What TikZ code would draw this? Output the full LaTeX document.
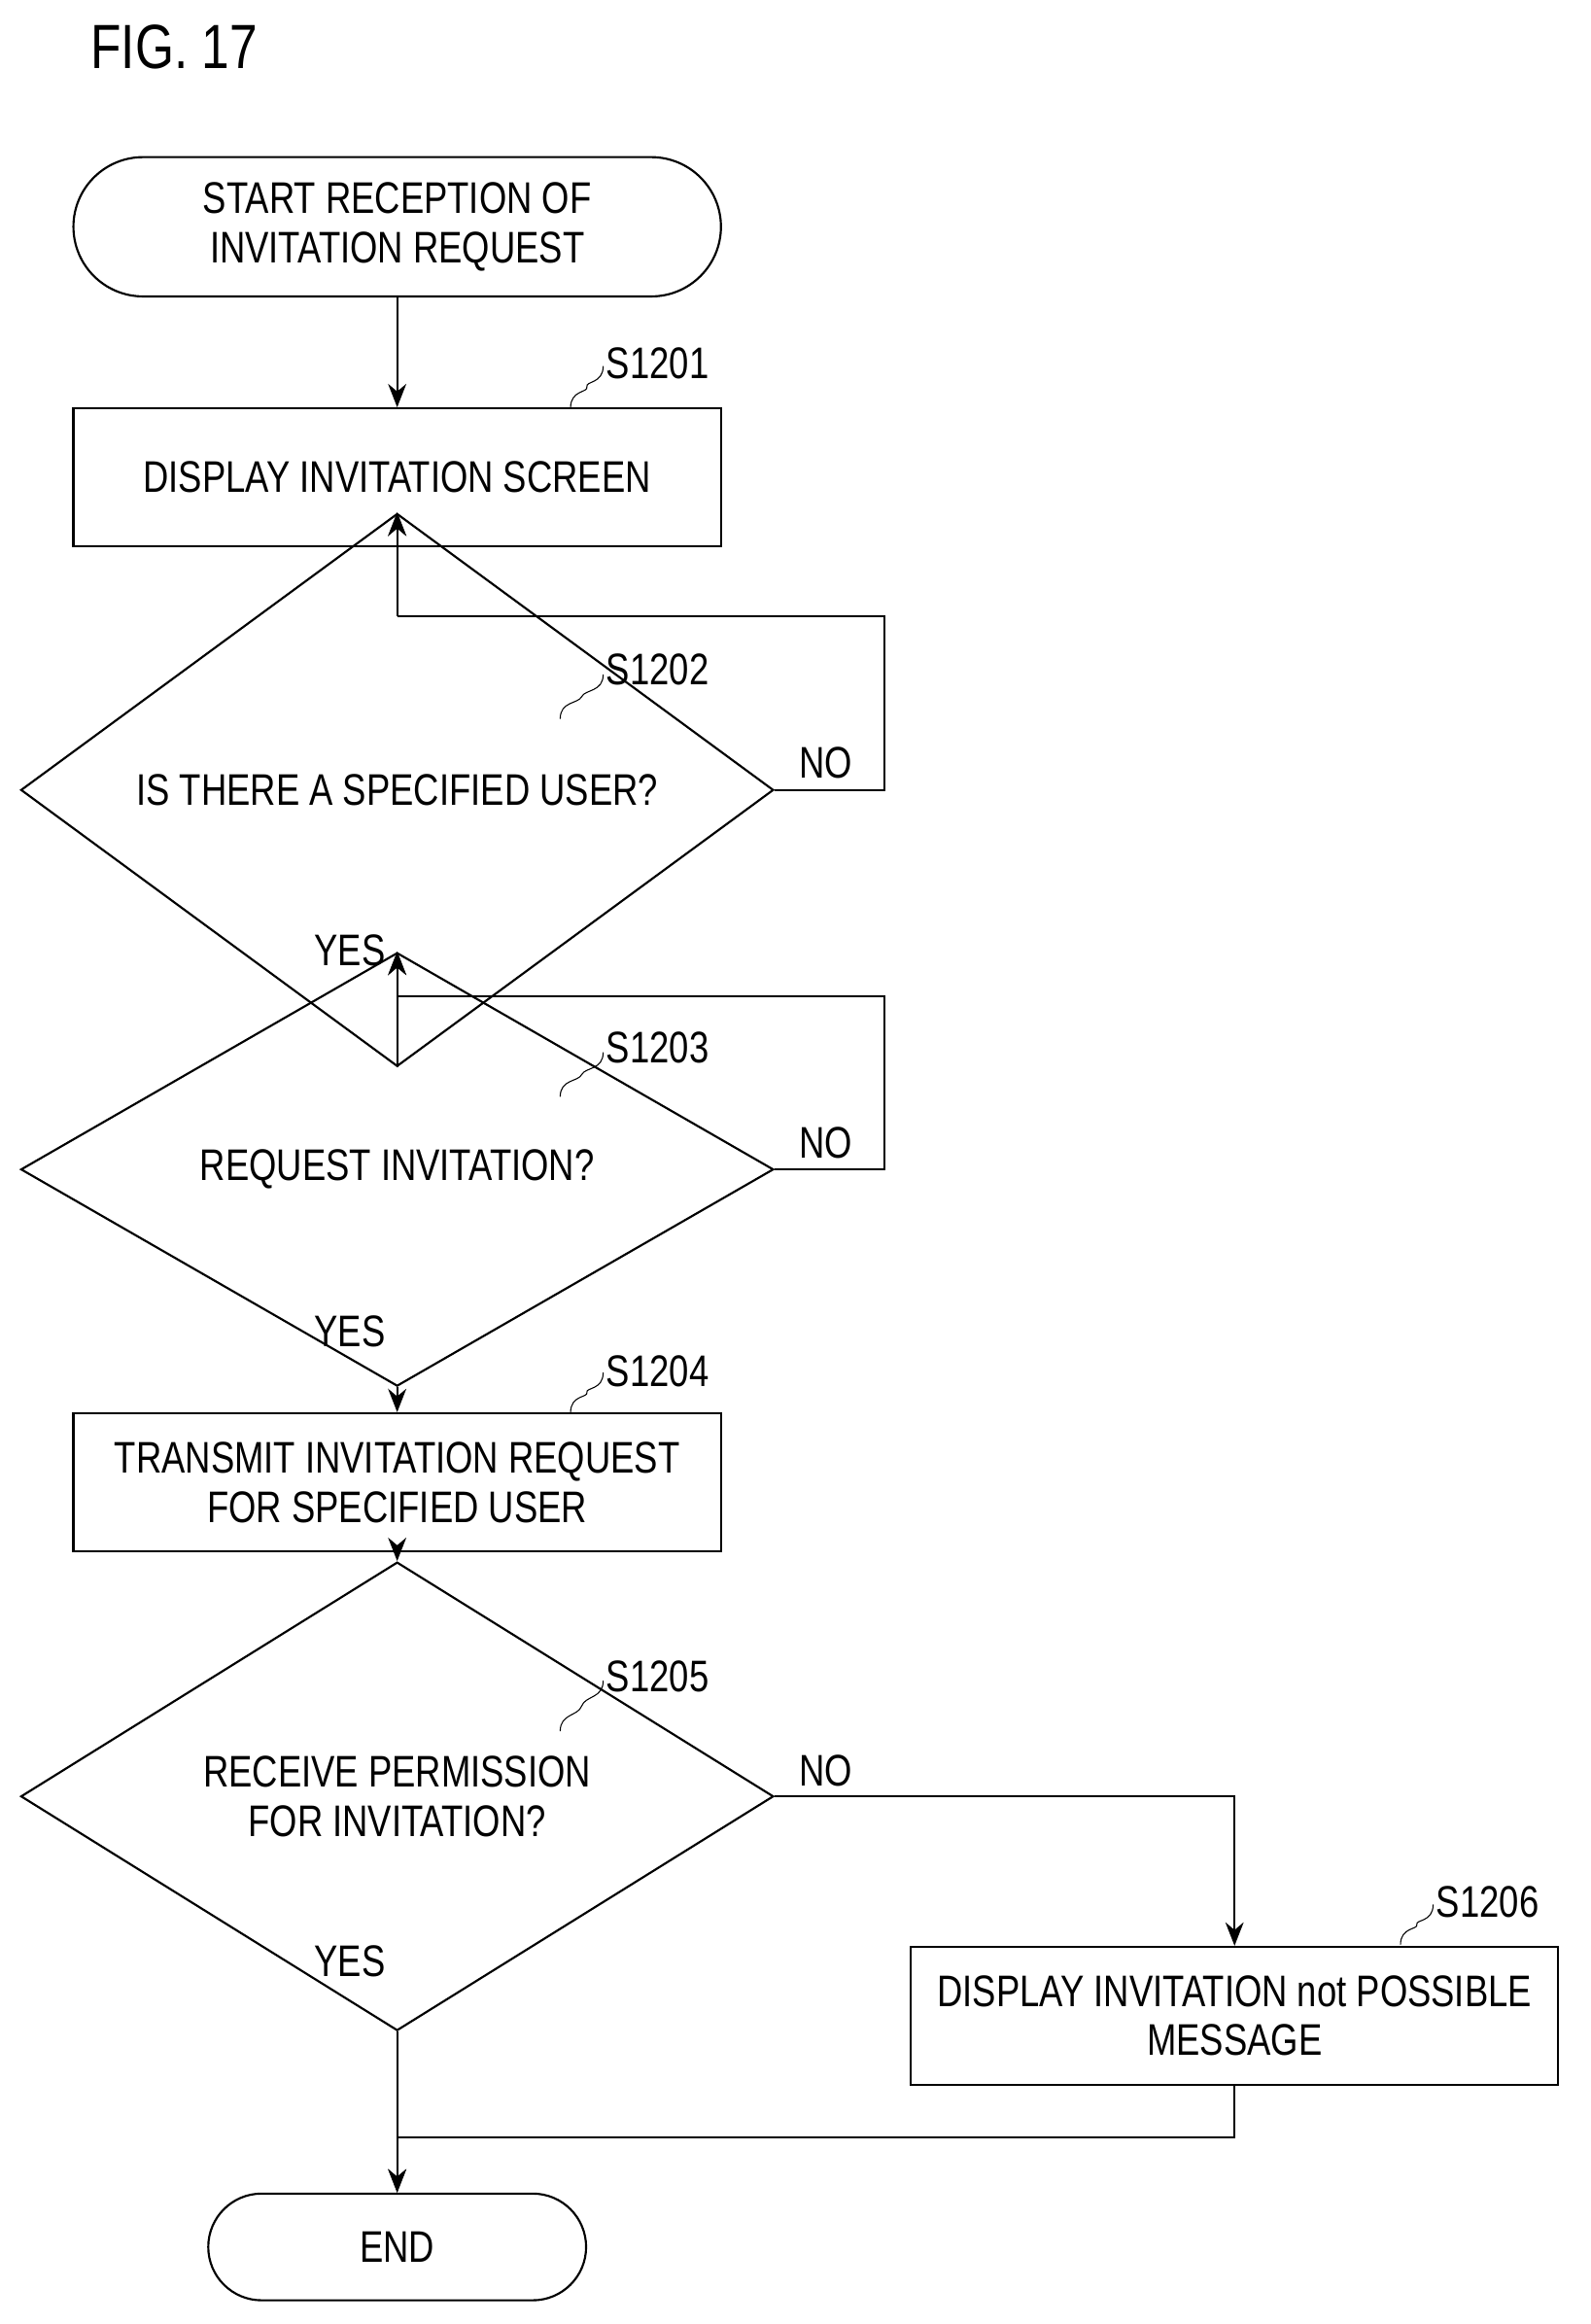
\documentclass[tikz,border=0pt]{standalone}
\usepackage{fontspec}
\setmainfont{Liberation Sans}[FakeStretch=0.8]
\usetikzlibrary{shapes.geometric,arrows.meta}
\begin{document}
\begin{tikzpicture}[x=0.02cm, y=-0.02cm,
    txt/.style={font=\fontsize{17}{19}\selectfont},
    term/.style={txt, draw, thick, rounded corners=0.94cm, minimum width=8.74cm,
                 minimum height=1.88cm, align=center, inner sep=2pt},
    proc/.style={txt, draw, thick, minimum width=8.74cm, minimum height=1.86cm,
                 align=center, inner sep=2pt},
    dec/.style={txt, draw, thick, diamond, minimum width=10.16cm,
                minimum height=3.6cm, inner sep=0pt, align=center},
    arr/.style={-{Stealth[length=9pt,width=7pt]}, thick},
    lbl/.style={txt, anchor=west},
  ]
  \useasboundingbox (0,0) rectangle (1073,1568);

  \node[font=\fontsize{24}{26}\selectfont, anchor=west] (fig) at (55,32) {FIG. 17};

  % Flow
  \node[term] (start) at (268,153) {START RECEPTION OF\\INVITATION REQUEST};
  \node[proc] (s1) at (268,322) {DISPLAY INVITATION SCREEN};
  \node[dec] (s2) at (268,533) {IS THERE A SPECIFIED USER?};
  \node[dec] (s3) at (268,789) {REQUEST INVITATION?};
  \node[proc] (s4) at (268,1000) {TRANSMIT INVITATION REQUEST\\FOR SPECIFIED USER};
  \node[dec] (s5) at (268,1212) {RECEIVE PERMISSION\\FOR INVITATION?};
  \node[proc, minimum width=8.74cm] (s6) at (833,1360) {DISPLAY INVITATION not POSSIBLE\\MESSAGE};
  \node[term, minimum width=5.1cm, minimum height=1.44cm, rounded corners=0.72cm] (end) at (268,1516) {END};

  % Step labels
  \node[lbl] (l1) at (403,245) {S1201};
  \node[lbl] (l2) at (403,452) {S1202};
  \node[lbl] (l3) at (403,707) {S1203};
  \node[lbl] (l4) at (403,925) {S1204};
  \node[lbl] (l5) at (403,1131) {S1205};
  \node[lbl] (l6) at (963,1283) {S1206};
  \foreach \a/\b/\c/\d in {385/275/407/247, 378/485/407/455, 378/740/407/710,
      385/953/407/926, 378/1168/407/1134, 945/1312/967/1285}
    \draw (\a,\b) .. controls (\a,\b-12) and (\a+12,\b-10) .. ({(\a+\c)/2},{(\b+\d)/2})
          .. controls (\c-12,\d+10) and (\c,\d+12) .. (\c,\d);

  % Coordinates
  \coordinate (j2) at (268,416);
  \coordinate (j3) at (268,672);
  \coordinate (j6) at (268,1442);

  % Edges
  \draw[arr] (start) -- (s1);
  \draw[arr] (s1) -- (s2);
  \draw[thick] (s2.east) -- (597,533) -- (597,416) -- (j2);
  \draw[arr] (j2) -- (s2.north);
  \draw[arr] (s2) -- (s3);
  \draw[thick] (s3.east) -- (597,789) -- (597,672) -- (j3);
  \draw[arr] (j3) -- (s3.north);
  \draw[arr] (s3) -- (s4);
  \draw[arr] (s4) -- (s5);
  \draw[arr] (s5.east) -| (s6.north);
  \draw[thick] (s6.south) |- (j6);
  \draw[arr] (s5) -- (end);
  \draw[arr] (j6) -- (end.north);

  % Branch labels
  \node[txt] (n2) at (557,515) {NO};
  \node[txt] (n3) at (557,771) {NO};
  \node[txt] (n5) at (557,1195) {NO};
  \node[txt] (y2) at (236,641) {YES};
  \node[txt] (y3) at (236,898) {YES};
  \node[txt] (y5) at (236,1323) {YES};

  \end{tikzpicture}
\end{document}
